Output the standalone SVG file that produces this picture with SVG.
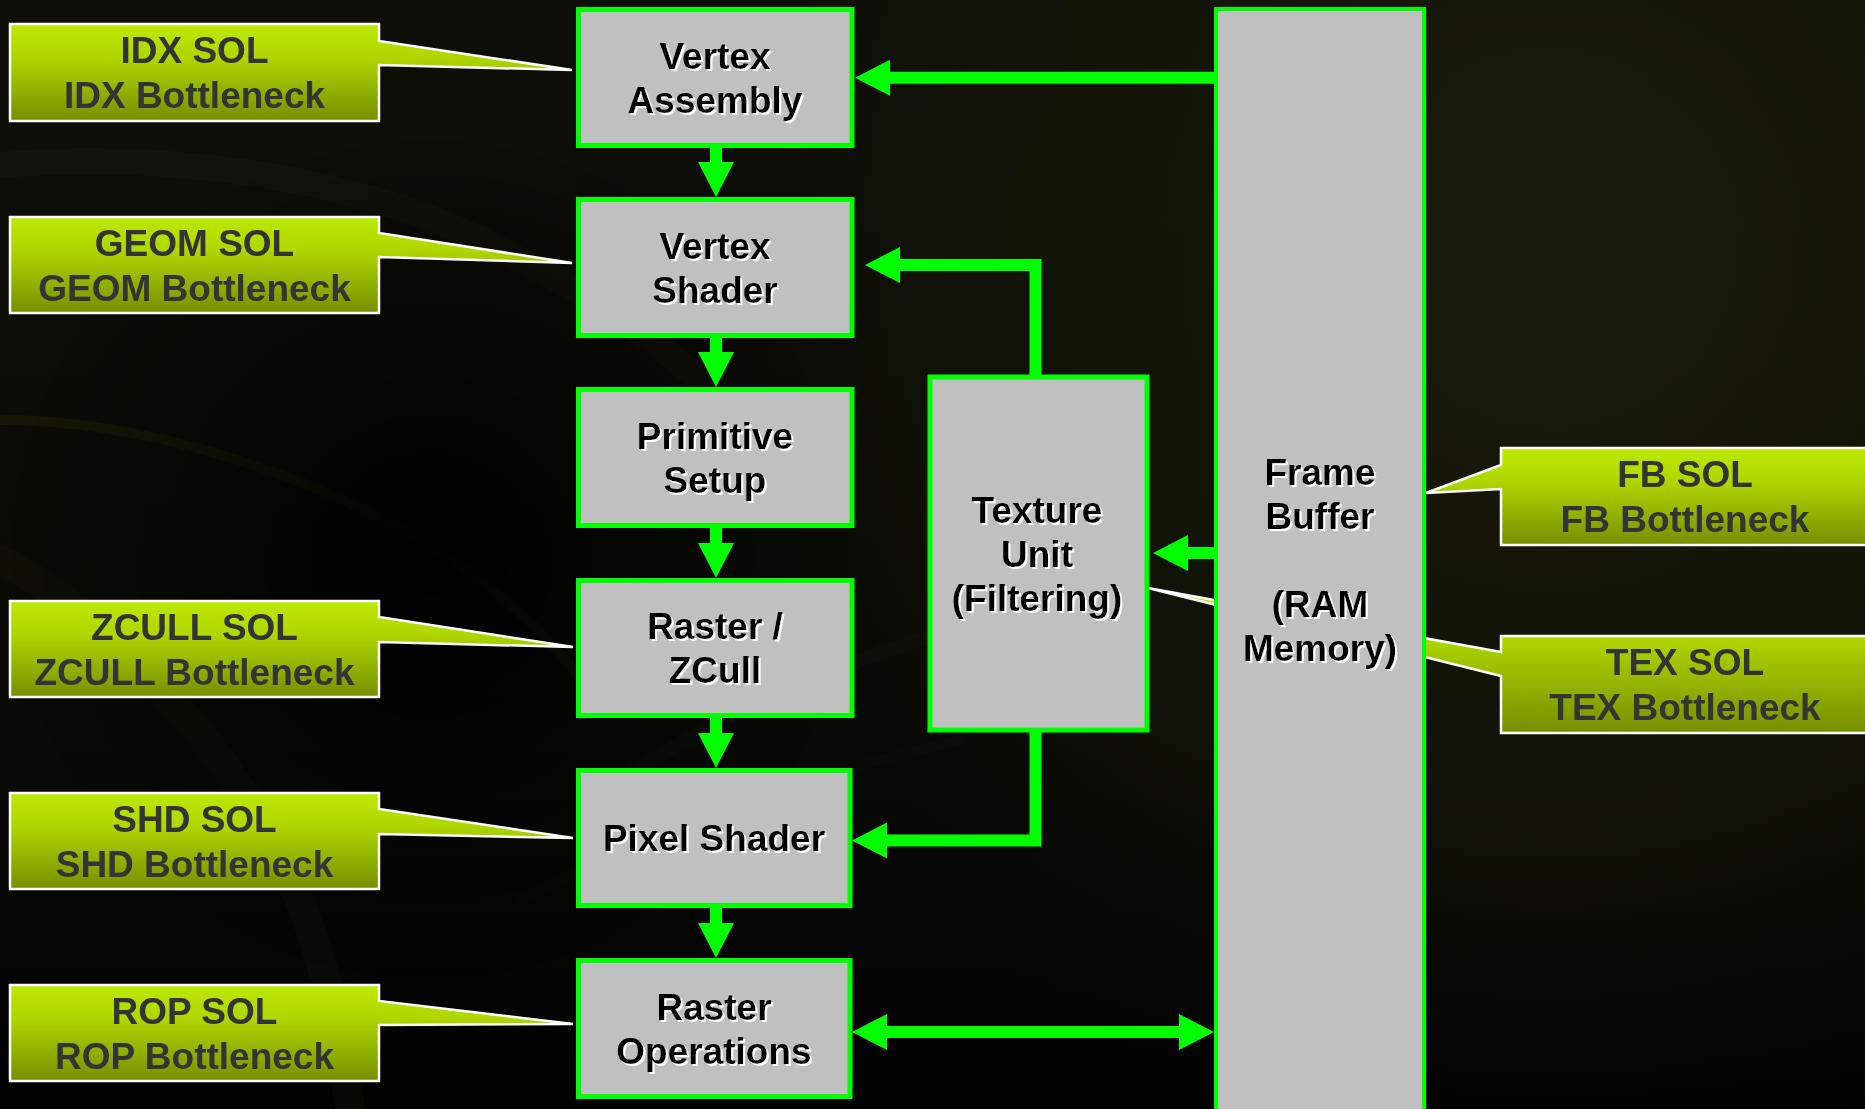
<svg xmlns="http://www.w3.org/2000/svg" width="1865" height="1109" viewBox="0 0 1865 1109">
<defs>
<linearGradient id="bgLin" x1="0" y1="0" x2="0" y2="1">
<stop offset="0" stop-color="#0e0f08"/>
<stop offset="0.55" stop-color="#0b0b06"/>
<stop offset="1" stop-color="#020202"/>
</linearGradient>
<radialGradient id="bgRad" cx="1550" cy="250" r="1000" gradientUnits="userSpaceOnUse">
<stop offset="0" stop-color="#1a1c0b" stop-opacity="1"/>
<stop offset="0.6" stop-color="#151609" stop-opacity="0.6"/>
<stop offset="1" stop-color="#000" stop-opacity="0"/>
</radialGradient>
<radialGradient id="bgDark" cx="430" cy="560" r="420" gradientUnits="userSpaceOnUse">
<stop offset="0" stop-color="#000" stop-opacity="0.9"/>
<stop offset="1" stop-color="#000" stop-opacity="0"/>
</radialGradient>
<linearGradient id="callG" x1="0" y1="0" x2="0" y2="1">
<stop offset="0" stop-color="#bde800"/>
<stop offset="0.35" stop-color="#aed600"/>
<stop offset="1" stop-color="#758f00"/>
</linearGradient>
<filter id="sh" x="-5%" y="-20%" width="110%" height="140%">
<feDropShadow dx="2" dy="2" stdDeviation="0" flood-color="#ffffff" flood-opacity="1"/>
</filter>
<marker id="ah" markerUnits="userSpaceOnUse" markerWidth="36" markerHeight="37" refX="0" refY="18" orient="auto-start-reverse" viewBox="0 0 36 36" overflow="visible">
<path d="M0,0 L35,18 L0,36 Z" fill="#00ff00"/>
</marker>
<style>
.node rect{fill:#c0c0c0;stroke:#00ff00;stroke-width:5}
.node text{font-family:"Liberation Sans",Arial,sans-serif;font-weight:bold;font-size:37px;fill:#000;text-anchor:middle;filter:url(#sh)}
.call path{fill:url(#callG);stroke:#ffffff;stroke-width:2.5;stroke-linejoin:miter}
.call text{font-family:"Liberation Sans",Arial,sans-serif;font-weight:bold;font-size:37px;fill:#343434;text-anchor:middle}
.conn path{fill:none;stroke:#00ff00;stroke-width:12;stroke-linejoin:miter;stroke-linecap:butt}
.swoosh{fill:none;stroke-linecap:round}
</style>
</defs>

<!-- background -->
<rect x="0" y="0" width="1865" height="1109" fill="url(#bgLin)"/>
<rect x="0" y="0" width="1865" height="1109" fill="url(#bgRad)"/>
<g opacity="0.35">
<path class="swoosh" d="M0,165 C180,150 380,180 520,260 C600,300 640,330 700,380" stroke="#2a2b20" stroke-width="26" opacity="0.5"/>
<path class="swoosh" d="M0,420 C140,420 300,470 420,540 C500,590 560,640 600,710" stroke="#3a4010" stroke-width="10" opacity="0.6"/>
<path class="swoosh" d="M0,560 C120,620 240,760 300,900 C330,980 340,1040 350,1109" stroke="#1e2010" stroke-width="30" opacity="0.6"/>
<path class="swoosh" d="M620,780 C760,690 900,640 1000,620" stroke="#222" stroke-width="14" opacity="0.5"/>
<path class="swoosh" d="M520,900 C660,830 820,770 960,740" stroke="#1a1a1a" stroke-width="10" opacity="0.5"/>
</g>
<rect x="0" y="0" width="1865" height="1109" fill="url(#bgDark)"/>

<!-- callouts (TEX first so Frame Buffer covers its pointer) -->
<g id="call-tex" class="call">
<path d="M1501,636 H1872 V733 H1501 V676 L1148,588 L1501,652 Z"/>
<text x="1685" y="675">TEX SOL</text>
<text x="1685" y="720">TEX Bottleneck</text>
</g>
<g id="call-idx" class="call">
<path d="M10,24 H379 V41 L572,70 L379,65 V121 H10 Z"/>
<text x="194.5" y="63">IDX SOL</text>
<text x="194.5" y="108">IDX Bottleneck</text>
</g>
<g id="call-geom" class="call">
<path d="M10,217 H379 V233 L572,263 L379,257 V313 H10 Z"/>
<text x="194.5" y="256">GEOM SOL</text>
<text x="194.5" y="301">GEOM Bottleneck</text>
</g>
<g id="call-zcull" class="call">
<path d="M10,601 H379 V617 L573,647 L379,642 V697 H10 Z"/>
<text x="194.5" y="640">ZCULL SOL</text>
<text x="194.5" y="685">ZCULL Bottleneck</text>
</g>
<g id="call-shd" class="call">
<path d="M10,793 H379 V809 L573,838 L379,834 V889 H10 Z"/>
<text x="194.5" y="832">SHD SOL</text>
<text x="194.5" y="877">SHD Bottleneck</text>
</g>
<g id="call-rop" class="call">
<path d="M10,985 H379 V1001 L573,1024 L379,1025 V1081 H10 Z"/>
<text x="194.5" y="1024">ROP SOL</text>
<text x="194.5" y="1069">ROP Bottleneck</text>
</g>

<!-- connectors -->
<g id="connectors" class="conn">
<path d="M716,148 V162" marker-end="url(#ah)"/>
<path d="M716,338 V352" marker-end="url(#ah)"/>
<path d="M716,528 V543" marker-end="url(#ah)"/>
<path d="M716,718 V733" marker-end="url(#ah)"/>
<path d="M716,908 V923" marker-end="url(#ah)"/>
<path d="M1216,77.7 H890" marker-end="url(#ah)"/>
<path d="M1035.5,376 V265 H900" marker-end="url(#ah)"/>
<path d="M1035.5,731 V840.5 H887" marker-end="url(#ah)"/>
<path d="M1216,553 H1188" marker-end="url(#ah)"/>
<path d="M887,1032 H1179" marker-start="url(#ah)" marker-end="url(#ah)"/>
</g>

<!-- nodes -->
<g id="node-va" class="node">
<rect x="578.5" y="9.5" width="273.5" height="136"/>
<text x="715" y="68.5">Vertex</text>
<text x="715" y="112.5">Assembly</text>
</g>
<g id="node-vs" class="node">
<rect x="578.5" y="199.5" width="273.5" height="136"/>
<text x="715" y="258.5">Vertex</text>
<text x="715" y="302.5">Shader</text>
</g>
<g id="node-ps" class="node">
<rect x="578.5" y="389.5" width="273.5" height="136"/>
<text x="715" y="448.5">Primitive</text>
<text x="715" y="492.5">Setup</text>
</g>
<g id="node-rz" class="node">
<rect x="578.5" y="580.5" width="273.5" height="135"/>
<text x="715" y="639">Raster /</text>
<text x="715" y="683">ZCull</text>
</g>
<g id="node-pxs" class="node">
<rect x="578.5" y="770.5" width="271.5" height="135"/>
<text x="714" y="851">Pixel Shader</text>
</g>
<g id="node-rop" class="node">
<rect x="578.5" y="960.5" width="271.5" height="136"/>
<text x="714" y="1019.5">Raster</text>
<text x="714" y="1063.5">Operations</text>
</g>
<g id="node-tu" class="node">
<rect x="930" y="377" width="217" height="353"/>
<text x="1037" y="522.5">Texture</text>
<text x="1037" y="566.5">Unit</text>
<text x="1037" y="610.5">(Filtering)</text>
</g>
<g id="node-fb" class="node">
<rect x="1216" y="9" width="208" height="1110" style="stroke-width:4"/>
<text x="1320" y="485">Frame</text>
<text x="1320" y="529">Buffer</text>
<text x="1320" y="617">(RAM</text>
<text x="1320" y="661">Memory)</text>
</g>

<!-- FB callout -->
<g id="call-fb" class="call">
<path d="M1501,448 H1872 V545 H1501 V489 L1426,493 L1501,465 Z"/>
<text x="1685" y="487">FB SOL</text>
<text x="1685" y="532">FB Bottleneck</text>
</g>
</svg>
